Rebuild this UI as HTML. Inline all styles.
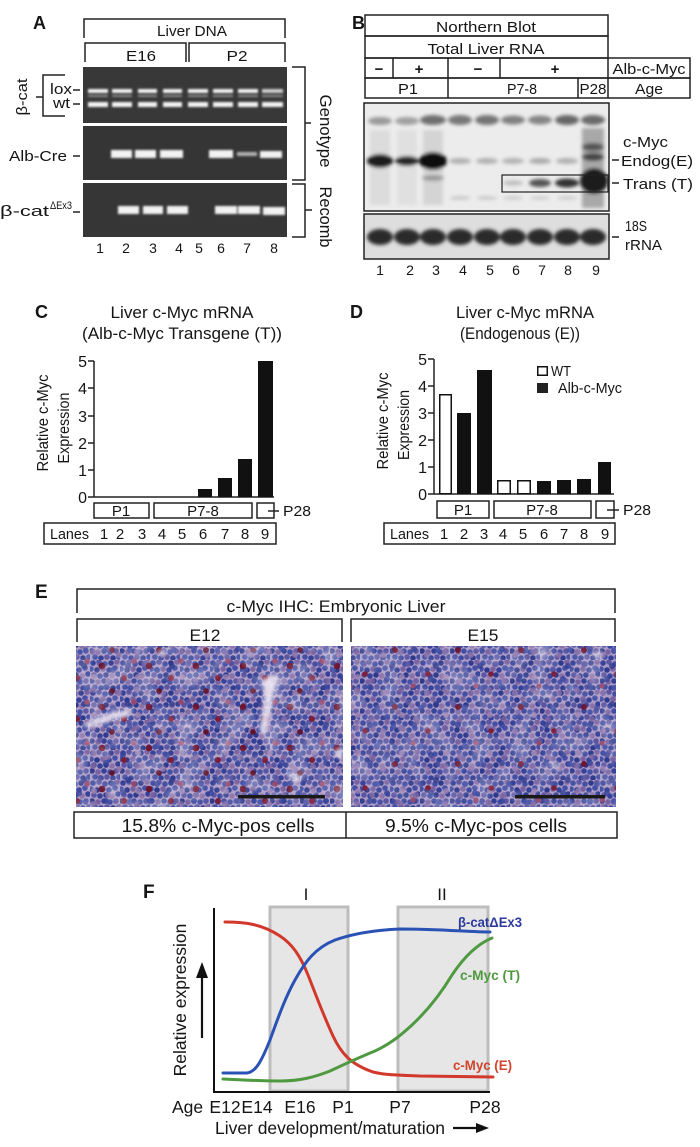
<!DOCTYPE html>
<html><head><meta charset="utf-8"><style>
html,body{margin:0;padding:0;background:#fff;}
svg{display:block;}
text{font-family:"Liberation Sans",Arial,sans-serif;fill:#151515;}
.b{font-weight:bold;}
</style></head><body>
<svg width="700" height="1147" viewBox="0 0 700 1147" xmlns="http://www.w3.org/2000/svg">
<defs>
<filter id="gb" x="-30%" y="-100%" width="160%" height="300%"><feGaussianBlur stdDeviation="1"/></filter>
<filter id="gb2" x="-30%" y="-60%" width="160%" height="220%"><feGaussianBlur stdDeviation="1.8"/></filter>
<filter id="gb3" x="-30%" y="-30%" width="160%" height="160%"><feGaussianBlur stdDeviation="2.2"/></filter>
<filter id="mottle" x="0" y="0" width="100%" height="100%"><feTurbulence type="fractalNoise" baseFrequency="0.045" numOctaves="2" seed="7"/><feColorMatrix type="matrix" values="0 0 0 0 0.93  0 0 0 0 0.9  0 0 0 0 0.97  0 0 0 -2.4 1.45"/></filter>
<pattern id="cA" width="30" height="30" patternUnits="userSpaceOnUse">
<circle cx="3" cy="3" r="2.8" fill="#34429a"/><circle cx="9" cy="2" r="2.8" fill="#5a56a2"/><circle cx="15" cy="4" r="2.8" fill="#4350a5"/><circle cx="21" cy="3" r="2.8" fill="#2e3a8c"/><circle cx="27" cy="2" r="2.8" fill="#7a62a0"/>
<circle cx="1" cy="9" r="2.8" fill="#4350a5"/><circle cx="7" cy="10" r="2.8" fill="#2e3a8c"/><circle cx="13" cy="9" r="2.8" fill="#7a62a0"/><circle cx="19" cy="10" r="2.8" fill="#34429a"/><circle cx="25" cy="8" r="2.8" fill="#4350a5"/>
<circle cx="4" cy="15" r="2.8" fill="#5a56a2"/><circle cx="10" cy="16" r="2.8" fill="#34429a"/><circle cx="16" cy="15" r="2.8" fill="#2e3a8c"/><circle cx="22" cy="16" r="2.8" fill="#8a70a8"/><circle cx="28" cy="14" r="2.8" fill="#34429a"/>
<circle cx="2" cy="21" r="2.8" fill="#2e3a8c"/><circle cx="8" cy="22" r="2.8" fill="#7a62a0"/><circle cx="14" cy="21" r="2.8" fill="#34429a"/><circle cx="20" cy="22" r="2.8" fill="#4350a5"/><circle cx="26" cy="21" r="2.8" fill="#5a56a2"/>
<circle cx="5" cy="27" r="2.8" fill="#4350a5"/><circle cx="11" cy="28" r="2.8" fill="#34429a"/><circle cx="17" cy="27" r="2.8" fill="#5a56a2"/><circle cx="23" cy="28" r="2.8" fill="#2e3a8c"/><circle cx="29" cy="27" r="2.8" fill="#4350a5"/>
</pattern>
<pattern id="cB" width="44" height="38" patternUnits="userSpaceOnUse">
<circle cx="5" cy="6" r="3" fill="#7a62a0"/><circle cx="18" cy="3" r="3" fill="#34429a"/><circle cx="31" cy="9" r="3" fill="#8a70a8"/><circle cx="40" cy="20" r="3" fill="#2e3a8c"/><circle cx="12" cy="18" r="3" fill="#5a56a2"/><circle cx="25" cy="24" r="3" fill="#4350a5"/><circle cx="6" cy="31" r="3" fill="#9a80b0"/><circle cx="35" cy="33" r="3" fill="#34429a"/><circle cx="20" cy="35" r="3" fill="#7a62a0"/><circle cx="42" cy="4" r="3" fill="#4350a5"/>
</pattern>
<pattern id="rA" width="47" height="41" patternUnits="userSpaceOnUse">
<circle cx="8" cy="10" r="3.3" fill="#6b1632"/><circle cx="30" cy="22" r="3" fill="#7a1e3a"/><circle cx="18" cy="35" r="2.9" fill="#5e1430"/><circle cx="40" cy="5" r="2.8" fill="#94486e"/>
</pattern>
<pattern id="rB" width="63" height="57" patternUnits="userSpaceOnUse" patternTransform="translate(5,9)">
<circle cx="12" cy="14" r="3" fill="#6b1632"/><circle cx="45" cy="38" r="2.8" fill="#7a1e3a"/><circle cx="30" cy="50" r="2.6" fill="#94486e"/>
</pattern>
<clipPath id="k1"><rect x="76" y="646" width="267" height="161"/></clipPath>
<clipPath id="k2"><rect x="351" y="646" width="265" height="161"/></clipPath>
</defs>

<!-- ================= PANEL A ================= -->
<text class="b" x="33" y="29" font-size="18">A</text>
<path d="M84,38 V19 H285 V38" fill="none" stroke="#222" stroke-width="1.5"/>
<text x="192" y="36" font-size="15" text-anchor="middle" textLength="70" lengthAdjust="spacingAndGlyphs">Liver DNA</text>
<path d="M85,62 V43 H186 V62" fill="none" stroke="#222" stroke-width="1.5"/>
<path d="M189,62 V43 H285 V62" fill="none" stroke="#222" stroke-width="1.5"/>
<text x="141" y="61" font-size="15" text-anchor="middle" textLength="30" lengthAdjust="spacingAndGlyphs">E16</text>
<text x="237" y="61" font-size="15" text-anchor="middle" textLength="21" lengthAdjust="spacingAndGlyphs">P2</text>

<rect x="83" y="67" width="204" height="56" fill="#383838"/>
<rect x="83" y="126" width="204" height="54" fill="#353535"/>
<rect x="83" y="183" width="204" height="54" fill="#363636"/>
<g filter="url(#gb)" fill="#f2f2f2">
<rect x="88" y="89" width="20" height="4"/><rect x="112" y="89" width="20" height="4"/><rect x="138" y="89" width="19" height="4"/><rect x="163" y="89" width="19" height="4"/><rect x="188" y="89" width="20" height="4"/><rect x="213" y="89" width="20" height="4"/><rect x="238" y="89" width="20" height="4"/><rect x="262" y="89" width="21" height="4" opacity="0.8"/>
<g opacity="0.45"><rect x="88" y="95" width="20" height="2"/><rect x="112" y="95" width="20" height="2"/><rect x="138" y="95" width="19" height="2"/><rect x="163" y="95" width="19" height="2"/><rect x="188" y="95" width="20" height="2"/><rect x="213" y="95" width="20" height="2"/><rect x="238" y="95" width="20" height="2"/><rect x="262" y="95" width="21" height="2"/></g>
<rect x="88" y="102" width="20" height="5"/><rect x="112" y="102" width="20" height="5"/><rect x="138" y="102" width="19" height="5"/><rect x="163" y="102" width="19" height="5"/><rect x="188" y="102" width="20" height="5"/><rect x="213" y="102" width="20" height="5"/><rect x="238" y="102" width="20" height="5"/><rect x="262" y="102" width="21" height="5"/>
<rect x="111" y="150" width="21" height="8"/><rect x="135" y="150" width="21" height="8"/><rect x="160" y="150" width="23" height="8"/><rect x="209" y="150" width="24" height="8"/><rect x="237" y="152" width="20" height="4" opacity="0.65"/><rect x="260" y="151" width="22" height="7"/>
<rect x="118" y="206" width="21" height="8"/><rect x="143" y="206" width="20" height="8"/><rect x="167" y="206" width="21" height="8"/><rect x="215" y="206" width="22" height="8"/><rect x="238" y="206" width="22" height="8"/><rect x="263" y="207" width="22" height="8"/>
</g>

<text transform="translate(27,97) rotate(-90)" font-size="15" text-anchor="middle" textLength="37" lengthAdjust="spacingAndGlyphs">β-cat</text>
<path d="M65,75 H43 V116 H65 M36,97 H43" fill="none" stroke="#222" stroke-width="1.5"/>
<text x="50" y="94" font-size="15" textLength="22" lengthAdjust="spacingAndGlyphs">lox</text>
<text x="53" y="108" font-size="15" textLength="17" lengthAdjust="spacingAndGlyphs">wt</text>
<path d="M73,90 H80 M73,104 H80 M73,156 H80 M73,212 H80" stroke="#222" stroke-width="1.5"/>
<text x="9" y="161" font-size="15" textLength="58" lengthAdjust="spacingAndGlyphs">Alb-Cre</text>
<text x="0" y="216" font-size="15" textLength="49" lengthAdjust="spacingAndGlyphs">β-cat</text>
<text x="50" y="209" font-size="11" textLength="22" lengthAdjust="spacingAndGlyphs">ΔEx3</text>

<g font-size="14" text-anchor="middle">
<text x="100" y="253">1</text><text x="126" y="253">2</text><text x="153" y="253">3</text><text x="179" y="253">4</text><text x="199" y="253">5</text><text x="221" y="253">6</text><text x="247" y="253">7</text><text x="274" y="253">8</text>
</g>
<path d="M292,67 H305 V180 H292 M305,123 H311" fill="none" stroke="#222" stroke-width="1.5"/>
<path d="M292,184 H305 V237 H292 M305,210 H312" fill="none" stroke="#222" stroke-width="1.5"/>
<text transform="translate(320,131) rotate(90)" font-size="17" text-anchor="middle" textLength="73" lengthAdjust="spacingAndGlyphs">Genotype</text>
<text transform="translate(320,217) rotate(90)" font-size="17" text-anchor="middle" textLength="61" lengthAdjust="spacingAndGlyphs">Recomb</text>

<!-- ================= PANEL B ================= -->
<text class="b" x="352" y="29" font-size="18">B</text>
<g fill="none" stroke="#222" stroke-width="1.5">
<rect x="365" y="15" width="243" height="21"/>
<rect x="365" y="36" width="243" height="22"/>
<rect x="365" y="58" width="325" height="20"/>
<rect x="365" y="78" width="325" height="20"/>
<path d="M393,58 V78 M448,58 V98 M500,58 V78 M608,58 V98 M578,78 V98"/>
</g>
<text x="486" y="32" font-size="14.5" text-anchor="middle" textLength="100" lengthAdjust="spacingAndGlyphs">Northern Blot</text>
<text x="486" y="54" font-size="14.5" text-anchor="middle" textLength="117" lengthAdjust="spacingAndGlyphs">Total Liver RNA</text>
<g font-size="15" class="b" text-anchor="middle">
<text x="379" y="74">−</text><text x="419" y="74">+</text><text x="478" y="74">−</text><text x="555" y="74">+</text>
</g>
<text x="649" y="74" font-size="14.5" text-anchor="middle" textLength="73" lengthAdjust="spacingAndGlyphs">Alb-c-Myc</text>
<text x="408" y="94" font-size="14.5" text-anchor="middle" textLength="20" lengthAdjust="spacingAndGlyphs">P1</text>
<text x="522" y="94" font-size="14.5" text-anchor="middle" textLength="30" lengthAdjust="spacingAndGlyphs">P7-8</text>
<text x="593" y="94" font-size="14.5" text-anchor="middle" textLength="27" lengthAdjust="spacingAndGlyphs">P28</text>
<text x="649" y="94" font-size="14.5" text-anchor="middle" textLength="28" lengthAdjust="spacingAndGlyphs">Age</text>

<rect x="364" y="103" width="245" height="108" fill="#ececec"/>
<g filter="url(#gb2)">
<ellipse cx="380" cy="121" rx="12" ry="4" fill="#9a9a9a"/><ellipse cx="407" cy="121" rx="12" ry="4" fill="#a0a0a0"/><ellipse cx="433" cy="120" rx="13" ry="5" fill="#6e6e6e"/><ellipse cx="460" cy="120" rx="12" ry="5" fill="#787878"/><ellipse cx="487" cy="120" rx="12" ry="5" fill="#747474"/><ellipse cx="513" cy="120" rx="12" ry="4.5" fill="#808080"/><ellipse cx="540" cy="120" rx="12" ry="4.5" fill="#858585"/><ellipse cx="567" cy="120" rx="12" ry="5" fill="#666"/><ellipse cx="593" cy="120" rx="12" ry="5" fill="#6a6a6a"/>
<ellipse cx="380" cy="136" rx="10" ry="2" fill="#c8c8c8"/><ellipse cx="433" cy="137" rx="10" ry="2" fill="#bdbdbd"/>
<rect x="370" y="130" width="20" height="75" fill="#dcdcdc"/><rect x="397" y="130" width="20" height="75" fill="#e0e0e0"/><rect x="423" y="130" width="20" height="75" fill="#d4d4d4"/>
<ellipse cx="380" cy="161" rx="13" ry="7" fill="#1c1c1c"/><ellipse cx="407" cy="161" rx="12" ry="5" fill="#262626"/><ellipse cx="433" cy="161" rx="14" ry="9" fill="#111"/>
<ellipse cx="433" cy="178" rx="11" ry="3" fill="#9a9a9a"/>
<ellipse cx="460" cy="161" rx="11" ry="3" fill="#b0b0b0"/><ellipse cx="487" cy="161" rx="11" ry="3" fill="#b0b0b0"/><ellipse cx="513" cy="161" rx="11" ry="3" fill="#b2b2b2"/><ellipse cx="540" cy="161" rx="11" ry="3" fill="#aaa"/><ellipse cx="567" cy="161" rx="11" ry="3" fill="#b0b0b0"/>
<ellipse cx="460" cy="198" rx="10" ry="1.8" fill="#c6c6c6"/><ellipse cx="487" cy="198" rx="10" ry="1.8" fill="#c6c6c6"/><ellipse cx="513" cy="198" rx="10" ry="1.8" fill="#cacaca"/><ellipse cx="540" cy="198" rx="10" ry="1.8" fill="#cacaca"/><ellipse cx="567" cy="198" rx="10" ry="1.8" fill="#cacaca"/>
<ellipse cx="513" cy="183" rx="10" ry="2.5" fill="#bdbdbd"/><ellipse cx="540" cy="183" rx="11" ry="4" fill="#555"/><ellipse cx="567" cy="183" rx="12" ry="4.5" fill="#333"/>
<rect x="582" y="128" width="22" height="80" fill="#a8a8a8"/>
<ellipse cx="593" cy="147" rx="11" ry="4" fill="#555"/><ellipse cx="593" cy="157" rx="11" ry="4" fill="#444"/>
<ellipse cx="594" cy="181" rx="14" ry="13" fill="#1e1e1e"/>
</g>
<rect x="364" y="103" width="245" height="108" fill="none" stroke="#222" stroke-width="1.5"/>
<rect x="502" y="175" width="106" height="17" fill="none" stroke="#222" stroke-width="1.2"/>

<rect x="364" y="214" width="245" height="45" fill="#dedede"/>
<g filter="url(#gb2)" fill="#2a2a2a">
<ellipse cx="380" cy="237" rx="13" ry="8"/><ellipse cx="407" cy="237" rx="13" ry="8"/><ellipse cx="433" cy="237" rx="13" ry="8"/><ellipse cx="460" cy="237" rx="13" ry="8"/><ellipse cx="487" cy="237" rx="13" ry="8"/><ellipse cx="513" cy="237" rx="13" ry="8"/><ellipse cx="540" cy="237" rx="13" ry="8"/><ellipse cx="567" cy="237" rx="13" ry="8"/><ellipse cx="593" cy="237" rx="13" ry="8"/>
</g>
<rect x="364" y="214" width="245" height="45" fill="none" stroke="#222" stroke-width="1.5"/>

<text x="623" y="147" font-size="15" textLength="45" lengthAdjust="spacingAndGlyphs">c-Myc</text>
<text x="621" y="166" font-size="15" textLength="72" lengthAdjust="spacingAndGlyphs">Endog(E)</text>
<text x="623" y="189" font-size="15" textLength="70" lengthAdjust="spacingAndGlyphs">Trans (T)</text>
<text x="625" y="231" font-size="14.5" textLength="22" lengthAdjust="spacingAndGlyphs">18S</text>
<text x="625" y="250" font-size="14.5" textLength="37" lengthAdjust="spacingAndGlyphs">rRNA</text>
<path d="M612,160 H619 M612,183 H619 M612,237 H619" stroke="#222" stroke-width="1.5"/>
<g font-size="14" text-anchor="middle">
<text x="380" y="275">1</text><text x="410" y="275">2</text><text x="436" y="275">3</text><text x="463" y="275">4</text><text x="490" y="275">5</text><text x="516" y="275">6</text><text x="542" y="275">7</text><text x="568" y="275">8</text><text x="596" y="275">9</text>
</g>

<!-- ================= PANEL C ================= -->
<text class="b" x="35" y="318" font-size="18">C</text>
<text x="182" y="318" font-size="16.5" text-anchor="middle" textLength="143" lengthAdjust="spacingAndGlyphs">Liver c-Myc mRNA</text>
<text x="182" y="339" font-size="16.5" text-anchor="middle" textLength="200" lengthAdjust="spacingAndGlyphs">(Alb-c-Myc Transgene (T))</text>
<text transform="translate(48,423) rotate(-90)" font-size="16" text-anchor="middle" textLength="97" lengthAdjust="spacingAndGlyphs">Relative c-Myc</text>
<text transform="translate(69,428) rotate(-90)" font-size="16" text-anchor="middle" textLength="71" lengthAdjust="spacingAndGlyphs">Expression</text>
<path d="M94,361 V497 H274 M88,361 H94 M88,388 H94 M88,416 H94 M88,443 H94 M88,470 H94 M88,497 H94" fill="none" stroke="#222" stroke-width="1.5"/>
<g font-size="16" text-anchor="end">
<text x="87" y="367">5</text><text x="87" y="394">4</text><text x="87" y="422">3</text><text x="87" y="449">2</text><text x="87" y="476">1</text><text x="87" y="503">0</text>
</g>
<g fill="#111">
<rect x="198" y="489" width="14" height="8"/><rect x="218" y="478" width="14" height="19"/><rect x="238" y="459" width="14" height="38"/><rect x="258" y="361" width="15" height="136"/>
</g>
<g fill="none" stroke="#222" stroke-width="1.5">
<rect x="94" y="503" width="55" height="15"/><rect x="154" y="503" width="98" height="15"/><rect x="257" y="503" width="17" height="15"/>
<path d="M268,511 H279"/>
<rect x="44" y="523" width="232" height="21"/>
</g>
<text x="121" y="516" font-size="15" text-anchor="middle">P1</text>
<text x="203" y="516" font-size="15" text-anchor="middle">P7-8</text>
<text x="283" y="516" font-size="15" textLength="28" lengthAdjust="spacingAndGlyphs">P28</text>
<g font-size="15" text-anchor="middle">
<text x="50" y="539" text-anchor="start" textLength="39" lengthAdjust="spacingAndGlyphs">Lanes</text>
<text x="104" y="539">1</text><text x="120" y="539">2</text><text x="142" y="539">3</text><text x="162" y="539">4</text><text x="182" y="539">5</text><text x="203" y="539">6</text><text x="225" y="539">7</text><text x="245" y="539">8</text><text x="265" y="539">9</text>
</g>

<!-- ================= PANEL D ================= -->
<text class="b" x="350" y="318" font-size="18">D</text>
<text x="525" y="318" font-size="16.5" text-anchor="middle" textLength="138" lengthAdjust="spacingAndGlyphs">Liver c-Myc mRNA</text>
<text x="520" y="339" font-size="16.5" text-anchor="middle" textLength="120" lengthAdjust="spacingAndGlyphs">(Endogenous (E))</text>
<text transform="translate(388,421) rotate(-90)" font-size="16" text-anchor="middle" textLength="97" lengthAdjust="spacingAndGlyphs">Relative c-Myc</text>
<text transform="translate(409,425) rotate(-90)" font-size="16" text-anchor="middle" textLength="70" lengthAdjust="spacingAndGlyphs">Expression</text>
<path d="M434,359 V494 H614 M428,359 H434 M428,386 H434 M428,413 H434 M428,440 H434 M428,467 H434 M428,494 H434" fill="none" stroke="#222" stroke-width="1.5"/>
<g font-size="16" text-anchor="end">
<text x="427" y="365">5</text><text x="427" y="392">4</text><text x="427" y="419">3</text><text x="427" y="446">2</text><text x="427" y="473">1</text><text x="427" y="500">0</text>
</g>
<g fill="#111">
<rect x="457" y="413" width="14" height="81"/><rect x="477" y="370" width="15" height="124"/><rect x="537" y="481" width="14" height="13"/><rect x="557" y="480" width="14" height="14"/><rect x="577" y="479" width="14" height="15"/><rect x="598" y="462" width="13" height="32"/>
</g>
<g fill="#fff" stroke="#111" stroke-width="1.5">
<rect x="439.75" y="394.75" width="11.5" height="99"/><rect x="497.75" y="480.75" width="12.5" height="13"/><rect x="517.75" y="480.75" width="12.5" height="13"/>
</g>
<rect x="537.75" y="366.75" width="9.5" height="8.5" fill="#fff" stroke="#111" stroke-width="1.5"/>
<rect x="537" y="383" width="11" height="10" fill="#222"/>
<text x="551" y="376" font-size="15" textLength="20" lengthAdjust="spacingAndGlyphs">WT</text>
<text x="558" y="393" font-size="15" textLength="64" lengthAdjust="spacingAndGlyphs">Alb-c-Myc</text>
<g fill="none" stroke="#222" stroke-width="1.5">
<rect x="437" y="501" width="52" height="17"/><rect x="494" y="501" width="97" height="17"/><rect x="596" y="501" width="18" height="17"/>
<path d="M607,510 H619"/>
<rect x="384" y="523" width="231" height="21"/>
</g>
<text x="463" y="515" font-size="15" text-anchor="middle">P1</text>
<text x="542" y="515" font-size="15" text-anchor="middle">P7-8</text>
<text x="623" y="515" font-size="15" textLength="28" lengthAdjust="spacingAndGlyphs">P28</text>
<g font-size="15" text-anchor="middle">
<text x="390" y="539" text-anchor="start" textLength="39" lengthAdjust="spacingAndGlyphs">Lanes</text>
<text x="444" y="539">1</text><text x="464" y="539">2</text><text x="484" y="539">3</text><text x="503" y="539">4</text><text x="523" y="539">5</text><text x="544" y="539">6</text><text x="564" y="539">7</text><text x="584" y="539">8</text><text x="605" y="539">9</text>
</g>

<!-- ================= PANEL E ================= -->
<text class="b" x="35" y="598" font-size="19">E</text>
<g fill="none" stroke="#222" stroke-width="1.5">
<path d="M77,613 V589 H615 V613"/>
<path d="M77,642 V619 H342 V642"/>
<path d="M351,642 V619 H615 V642"/>
</g>
<text x="336" y="612" font-size="17" text-anchor="middle" textLength="219" lengthAdjust="spacingAndGlyphs">c-Myc IHC: Embryonic Liver</text>
<text x="205" y="641" font-size="17" text-anchor="middle" textLength="31" lengthAdjust="spacingAndGlyphs">E12</text>
<text x="483" y="641" font-size="17" text-anchor="middle" textLength="31" lengthAdjust="spacingAndGlyphs">E15</text>

<g clip-path="url(#k1)">
<rect x="76" y="646" width="267" height="161" fill="#ad9bc4"/>
<rect x="76" y="646" width="267" height="161" fill="url(#cA)"/>
<rect x="76" y="646" width="267" height="161" fill="url(#cB)" opacity="0.8"/>
<rect x="76" y="646" width="267" height="161" fill="url(#rA)"/>
<g fill="#ece4f0" filter="url(#gb3)" opacity="0.9">
<polygon points="82,725 97,717 113,712 133,708 127,717 107,722 90,728"/>
<polygon points="262,680 278,674 271,710 267,735 259,731 264,703"/>
<polygon points="157,651 168,649 163,656"/>
<polygon points="286,772 303,777 296,785"/>
<polygon points="333,752 343,746 343,762"/>
</g>
<rect x="76" y="646" width="267" height="161" filter="url(#mottle)" opacity="0.35"/>
<rect x="238" y="795" width="87" height="3.5" fill="#1a1a1a"/>
</g>

<g clip-path="url(#k2)">
<rect x="351" y="646" width="265" height="161" fill="#ab9ac4"/>
<rect x="351" y="646" width="265" height="161" fill="url(#cA)"/>
<rect x="351" y="646" width="265" height="161" fill="url(#cB)" opacity="0.8"/>
<rect x="351" y="646" width="265" height="161" fill="url(#rB)"/>
<g fill="#e6deec" filter="url(#gb3)" opacity="0.8">
<polygon points="537,651 546,648 544,658"/><polygon points="592,653 603,650 599,662"/><polygon points="549,765 558,762 560,772"/>
</g>
<rect x="351" y="646" width="265" height="161" filter="url(#mottle)" opacity="0.3"/>
<rect x="515" y="795" width="90" height="3.5" fill="#1a1a1a"/>
</g>

<g fill="none" stroke="#222" stroke-width="1.5">
<rect x="74" y="812" width="543" height="26"/>
<path d="M346,812 V838"/>
</g>
<text x="218" y="832" font-size="18" text-anchor="middle" textLength="193" lengthAdjust="spacingAndGlyphs">15.8% c-Myc-pos cells</text>
<text x="476" y="832" font-size="18" text-anchor="middle" textLength="182" lengthAdjust="spacingAndGlyphs">9.5% c-Myc-pos cells</text>

<!-- ================= PANEL F ================= -->
<text class="b" x="143" y="898" font-size="19">F</text>
<rect x="270" y="907" width="78" height="184" fill="#e6e6e6" stroke="#bdbdbd" stroke-width="3"/>
<rect x="398" y="907" width="90" height="184" fill="#e6e6e6" stroke="#bdbdbd" stroke-width="3"/>
<text x="306" y="900" font-size="17" text-anchor="middle">I</text>
<text x="442" y="900" font-size="17" text-anchor="middle">II</text>
<g fill="none" stroke-width="3" stroke-linecap="round">
<path d="M225,922 C245,922 262,924 280,936 C292,944 300,955 308,975 C316,995 322,1012 333,1036 C341,1053 350,1064 373,1072 C385,1075 395,1075 420,1076 L493,1077" stroke="#d2382c"/>
<path d="M223,1079 C245,1080 260,1081 280,1081 C300,1081 315,1077 330,1071 C345,1064 360,1057 375,1051 C390,1044 400,1036 412,1025 C428,1010 440,995 452,975 C462,960 475,945 492,938" stroke="#4f9a40"/>
<path d="M223,1073 L247,1073 C256,1072 262,1060 270,1040 C278,1018 285,998 295,980 C305,962 315,948 335,940 C355,933 375,930 400,929 C440,929 470,932 490,932" stroke="#2a52b5"/>
</g>
<path d="M214,908 V1092 H490" fill="none" stroke="#111" stroke-width="2"/>
<text x="458" y="927" font-size="14" class="b" style="fill:#2c3a9c" textLength="64" lengthAdjust="spacingAndGlyphs">β-catΔEx3</text>
<text x="460" y="980" font-size="14" class="b" style="fill:#4f9a40" textLength="60" lengthAdjust="spacingAndGlyphs">c-Myc (T)</text>
<text x="453" y="1070" font-size="14" class="b" style="fill:#d2442c" textLength="59" lengthAdjust="spacingAndGlyphs">c-Myc (E)</text>
<text transform="translate(186,1000) rotate(-90)" font-size="17.5" text-anchor="middle">Relative expression</text>
<path d="M202,1038 V975" stroke="#111" stroke-width="2.2"/>
<polygon points="196,978 208,978 202,962" fill="#111"/>
<g font-size="17.5" text-anchor="middle">
<text x="172" y="1113" text-anchor="start">Age</text>
<text x="225" y="1113">E12</text><text x="257" y="1113">E14</text><text x="300" y="1113">E16</text><text x="343" y="1113">P1</text><text x="400" y="1113">P7</text><text x="485" y="1113">P28</text>
</g>
<text x="215" y="1134" font-size="17.5" textLength="230" lengthAdjust="spacingAndGlyphs">Liver development/maturation</text>
<path d="M453,1128 H478" stroke="#111" stroke-width="2.2"/>
<polygon points="476,1123 476,1133 489,1128" fill="#111"/>
</svg>
</body></html>
